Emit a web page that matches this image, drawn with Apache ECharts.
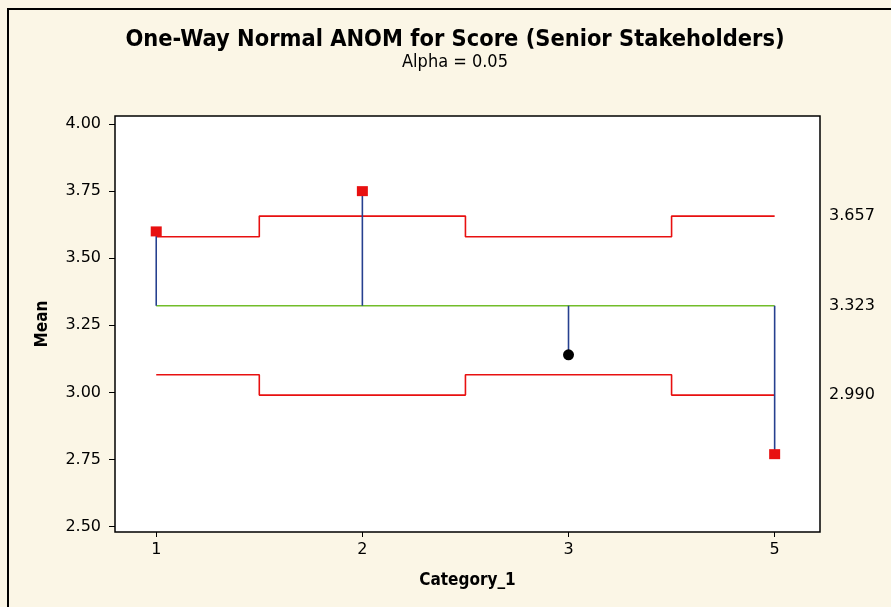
<!DOCTYPE html>
<html>
<head>
<meta charset="utf-8">
<script src="https://cdn.jsdelivr.net/npm/echarts@6/dist/echarts.min.js"></script>
<style>
  html, body { margin: 0; padding: 0; background: #fbf6e6; }
  #chart { width: 891px; height: 607px; }
</style>
</head>
<body>
<div id="chart"></div>
<script>
// Group labels and their plotted positions
const categories = ['1', '2', '3', '5'];
const positions = [1, 2, 3, 4];

// Group means of Score
const groupMeans = [3.60, 3.75, 3.14, 2.77];

// Overall mean and decision limits per group (alpha = 0.05)
const centerLine = 3.323;
const upperLimits = [3.580, 3.657, 3.580, 3.657];
const lowerLimits = [3.066, 2.990, 3.066, 2.990];

// Axis ticks
const yTicks = [2.50, 2.75, 3.00, 3.25, 3.50, 3.75, 4.00];
const limitLabels = [3.657, 3.323, 2.990];

const RED = '#e81010';
const GREEN = '#72bd2a';
const BLUE = '#26408f';
const FONT = 'DejaVu Sans';
const FONT_C = 'DejaVu Sans Condensed';

const upperData = positions.map((x, i) => [x, upperLimits[i]]);
const lowerData = positions.map((x, i) => [x, lowerLimits[i]]);
const centerData = [[positions[0], centerLine], [positions[positions.length - 1], centerLine]];
const meanData = positions.map((x, i) => [x, groupMeans[i]]);
const outside = meanData.filter((d, i) => d[1] > upperLimits[i] || d[1] < lowerLimits[i]);
const inside = meanData.filter((d, i) => !(d[1] > upperLimits[i] || d[1] < lowerLimits[i]));

const chart = echarts.init(document.getElementById('chart'), null, { renderer: 'canvas' });

chart.setOption({
  backgroundColor: '#fbf6e6',
  animation: false,
  title: [
    {
      text: 'One-Way Normal ANOM for Score (Senior Stakeholders)',
      left: 450, textAlign: 'center', top: 23,
      textStyle: { fontFamily: FONT_C, fontWeight: 'bold', fontSize: 23.4, color: '#000' }
    },
    {
      text: 'Alpha = 0.05',
      left: 450, textAlign: 'center', top: 48,
      textStyle: { fontFamily: FONT_C, fontWeight: 'normal', fontSize: 18, color: '#000' }
    }
  ],
  graphic: [
    {
      type: 'rect', silent: true, z: -1,
      shape: { x: 8, y: 9, width: 900, height: 620 },
      style: { fill: null, stroke: '#000', lineWidth: 2 }
    }
  ],
  grid: {
    left: 115, right: 71, top: 116, bottom: 75,
    show: true, backgroundColor: '#fff', borderColor: '#000', borderWidth: 1.5
  },
  xAxis: {
    type: 'value', min: 0.8, max: 4.22,
    name: 'Category_1', nameLocation: 'middle', nameGap: 40,
    nameTextStyle: { fontFamily: FONT_C, fontWeight: 'bold', fontSize: 17, color: '#000' },
    axisLine: { show: false },
    splitLine: { show: false },
    axisTick: { show: true, inside: false, length: 5, customValues: positions, lineStyle: { color: '#000' } },
    axisLabel: {
      customValues: positions, margin: 10,
      fontFamily: FONT, fontSize: 16, color: '#000',
      formatter: v => categories[positions.indexOf(v)]
    }
  },
  yAxis: [
    {
      type: 'value', min: 2.48, max: 4.03,
      name: 'Mean', nameLocation: 'middle', nameGap: 64, nameRotate: 90,
      nameTextStyle: { fontFamily: FONT_C, fontWeight: 'bold', fontSize: 17, color: '#000' },
      axisLine: { show: false },
      splitLine: { show: false },
      axisTick: { show: true, inside: false, length: 6, customValues: yTicks, lineStyle: { color: '#000' } },
      axisLabel: {
        customValues: yTicks, margin: 14,
        fontFamily: FONT, fontSize: 16, color: '#000',
        formatter: v => v.toFixed(2)
      }
    },
    {
      type: 'value', min: 2.48, max: 4.03, position: 'right',
      axisLine: { show: false },
      splitLine: { show: false },
      axisTick: { show: false },
      axisLabel: {
        customValues: limitLabels, margin: 9,
        fontFamily: FONT, fontSize: 16, color: '#000',
        formatter: v => v.toFixed(3)
      }
    }
  ],
  series: [
    {
      type: 'line', step: 'middle', data: upperData, symbol: 'none',
      lineStyle: { color: RED, width: 1.6 }, z: 2
    },
    {
      type: 'line', step: 'middle', data: lowerData, symbol: 'none',
      lineStyle: { color: RED, width: 1.6 }, z: 2
    },
    {
      type: 'line', data: centerData, symbol: 'none',
      lineStyle: { color: GREEN, width: 1.6 }, z: 2
    },
    {
      type: 'custom', data: meanData, z: 3,
      renderItem: (params, api) => {
        const x = api.value(0);
        const p0 = api.coord([x, centerLine]);
        const p1 = api.coord([x, api.value(1)]);
        return {
          type: 'line',
          shape: { x1: p0[0], y1: p0[1], x2: p1[0], y2: p1[1] },
          style: { stroke: BLUE, lineWidth: 1.6 }
        };
      }
    },
    {
      type: 'scatter', data: outside, symbol: 'rect', symbolSize: [11, 10],
      itemStyle: { color: RED, opacity: 1 }, z: 4
    },
    {
      type: 'scatter', data: inside, symbol: 'circle', symbolSize: 11,
      itemStyle: { color: '#000', opacity: 1 }, z: 4
    }
  ]
});
</script>
</body>
</html>
